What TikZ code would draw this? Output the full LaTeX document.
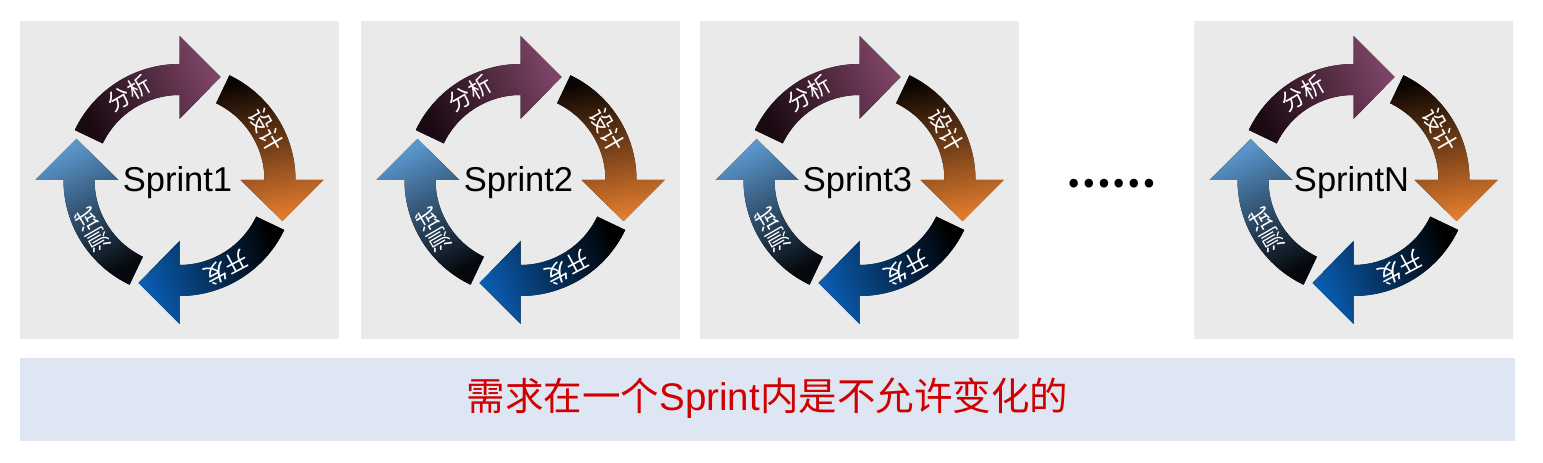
\documentclass[tikz,border=0pt]{standalone}
\usepackage{fontspec}
\setmainfont{Liberation Sans}
\newfontfamily\cjk{Noto Sans CJK SC}
\usetikzlibrary{calc}
\definecolor{panelgray}{HTML}{EAEAEA}
\definecolor{bannerblue}{HTML}{DFE6F3}
\definecolor{textred}{HTML}{D00000}
\definecolor{aA}{HTML}{1A0A12}\definecolor{aB}{HTML}{7E4466}
\definecolor{dA}{HTML}{0A0402}\definecolor{dB}{HTML}{E27C2E}
\definecolor{kA}{HTML}{000000}\definecolor{kB}{HTML}{0A5CB0}
\definecolor{tA}{HTML}{05080C}\definecolor{tB}{HTML}{5A96CC}
\tikzset{
  lbl/.style={text=white,font=\cjk\fontsize{23}{24}\selectfont,inner sep=0pt},
  sprint/.style={text=black,font=\fontsize{34.5}{36}\selectfont,inner sep=0pt,anchor=base},
  panel/.style={fill=panelgray,draw=none}
}
\newcommand\cycarrow[4]{%
  \fill[bottom color=#2,top color=#3,shading angle=#4]
    ({#1+64.5}:116) arc[start angle={#1+64.5},end angle=#1,radius=116]
    -- (#1:144) -- ($(#1:103)+({#1-90}:41)$) -- (#1:61) -- (#1:85)
    arc[start angle=#1,end angle={#1+64.5},radius=85] -- cycle;}
\newcommand\sprintpanel[3]{%
  \fill[panel] ({#1-159.5},124) rectangle ({#1+159.5},442);
  \begin{scope}[shift={(#1,283)}]
    \cycarrow{90}{aA}{aB}{-67}
    \cycarrow{0}{dA}{dB}{-170}
    \cycarrow{-90}{kA}{kB}{112}
    \cycarrow{-180}{tA}{tB}{26}
    \node[lbl,rotate=30] (#3-a) at (120:100) {分析};
    \node[lbl,rotate=-60] (#3-b) at (30:100) {设计};
    \node[lbl,rotate=-152] (#3-c) at (-62:100) {开发};
    \node[lbl,rotate=120] (#3-d) at (-150:100) {测试};
    \node[sprint] (#3) at (-2,-11.3) {#2};
  \end{scope}}
\begin{document}
\begin{tikzpicture}[x=1pt,y=1pt]
  \fill[white] (0,0) rectangle (1543,463);
  \useasboundingbox (0,0) rectangle (1543,463);
  \sprintpanel{179.5}{Sprint1}{s1}
  \sprintpanel{520.5}{Sprint2}{s2}
  \sprintpanel{859.5}{Sprint3}{s3}
  \sprintpanel{1353.5}{SprintN}{sn}
  \node[font=\cjk\bfseries\fontsize{40}{40}\selectfont,inner sep=0pt] (dots) at (1111,279) {……};
  \fill[bannerblue] (20,22) rectangle (1515,105);
  \node[text=textred,font=\fontsize{38.5}{40}\selectfont,inner sep=0pt] (note) at (767.5,65)
    {{\cjk 需求在一个}Sprint{\cjk 内是不允许变化的}};
\end{tikzpicture}
\end{document}
